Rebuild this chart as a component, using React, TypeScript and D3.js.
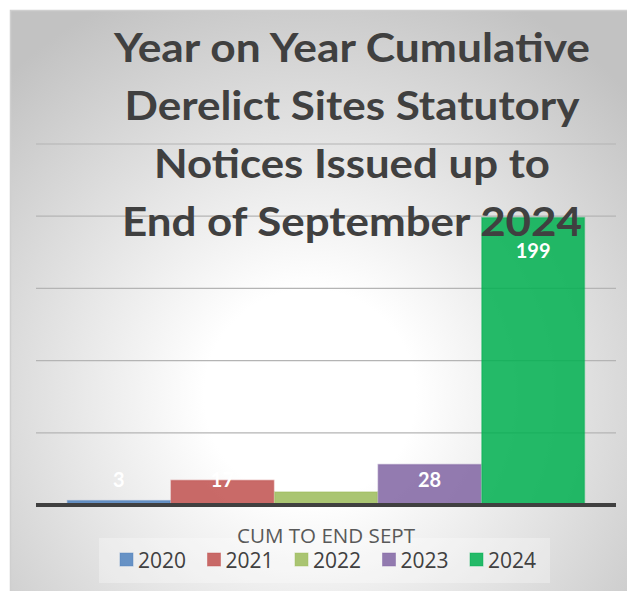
import React from 'react';
import * as d3 from 'd3';

// chart data
const category = 'CUM TO END SEPT';
const seriesNames = ['2020', '2021', '2022', '2023', '2024'];
const seriesValues = [3, 17, 9, 28, 199];
const seriesColors = ['#4F81BD', '#C0504D', '#9BBB59', '#8064A2', '#00B050'];
const yTicks = [0, 50, 100, 150, 200, 250];
const titleLines = [
  'Year on Year Cumulative',
  'Derelict Sites Statutory',
  'Notices Issued up to',
  'End of September 2024',
];

const W = 627;
const H = 591;

const App = () => {
  const margin = { left: 36, right: 11, top: 144, bottom: 86 };
  const plotW = W - margin.left - margin.right;
  const axisY = H - margin.bottom;

  const x0 = d3.scaleBand().domain([category]).range([margin.left, margin.left + plotW]).paddingInner(0).paddingOuter(0.06);
  const x1 = d3.scaleBand().domain(seriesNames).range([0, x0.bandwidth()]).padding(0);
  const y = d3.scaleLinear().domain([0, 250]).range([axisY, margin.top]);

  const titleWidths = [476, 455, 396, 460];
  const titleBase = 62;
  const titleStep = 58;

  const legendX0 = 120;
  const legendStep = 87.5;

  return (
    <svg width={W} height={H} style={{ position: 'absolute', left: 0, top: 0 }}>
      <defs>
        <radialGradient id="bg" gradientUnits="userSpaceOnUse" cx={310} cy={395} r={440}>
          <stop offset="0" stopColor="#ffffff" />
          <stop offset="0.24" stopColor="#ffffff" />
          <stop offset="1" stopColor="#c2c2c2" />
        </radialGradient>
      </defs>
      <rect x={0} y={0} width={W} height={H} fill="#ffffff" />
      <rect x={10.5} y={10.5} width={W + 10} height={H + 10} fill="url(#bg)" stroke="#cfcfcf" strokeWidth={1.5} />

      {/* gridlines */}
      {yTicks.filter(t => t > 0).map(t => (
        <line key={t} x1={margin.left} x2={margin.left + plotW} y1={y(t)} y2={y(t)} stroke="#b4b4b4" strokeWidth={1.2} />
      ))}

      {/* bars */}
      {seriesNames.map((s, i) => {
        const bx = (x0(category) as number) + (x1(s) as number);
        const v = seriesValues[i];
        return (
          <rect key={s} x={bx + 0.5} y={y(v)} width={x1.bandwidth() - 1} height={axisY - y(v)}
            fill={seriesColors[i]} fillOpacity={0.85} stroke={seriesColors[i]} strokeOpacity={0.45} strokeWidth={1.5} />
        );
      })}

      {/* axis */}
      <line x1={margin.left} x2={margin.left + plotW} y1={axisY} y2={axisY} stroke="#404040" strokeWidth={4} />

      {/* data labels */}
      {seriesNames.map((s, i) => {
        const bx = (x0(category) as number) + (x1(s) as number) + x1.bandwidth() / 2;
        const v = seriesValues[i];
        const ly = Math.min(y(v) + 40, axisY - 18);
        return (
          <text key={s} x={bx} y={ly} textAnchor="middle" fill="#ffffff" fontFamily="Lato" fontWeight="bold" fontSize={20}>{v}</text>
        );
      })}

      {/* title */}
      {titleLines.map((t, i) => (
        <text key={i} x={352} y={titleBase + i * titleStep} textAnchor="middle" fill="#404040"
          fontFamily="Lato" fontWeight="bold" fontSize={40} textLength={titleWidths[i]} lengthAdjust="spacingAndGlyphs">{t}</text>
      ))}

      {/* legend */}
      <rect x={99} y={538} width={451} height={45} fill="#ffffff" fillOpacity={0.3} />
      <text x={margin.left + plotW / 2} y={543} textAnchor="middle" fill="#595959" fontFamily="Open Sans" fontSize={20} textLength={178} lengthAdjust="spacingAndGlyphs">{category}</text>
      {seriesNames.map((s, i) => (
        <g key={s} transform={`translate(${legendX0 + i * legendStep},553)`}>
          <rect x={0} y={0} width={13} height={13} fill={seriesColors[i]} fillOpacity={0.85} stroke={seriesColors[i]} strokeOpacity={0.45} />
          <text x={18} y={15} fill="#404040" fontFamily="Open Sans" fontSize={21}>{s}</text>
        </g>
      ))}
    </svg>
  );
};

export default App;
